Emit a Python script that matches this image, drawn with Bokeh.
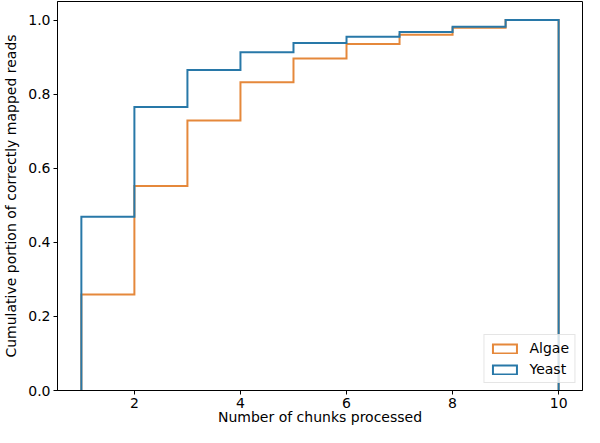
import numpy as np
from bokeh.plotting import figure
from bokeh.models import Range1d, FixedTicker, Legend, LegendItem, ColumnDataSource, PrintfTickFormatter
from bokeh.embed import file_html
from bokeh.resources import INLINE

# Data: cumulative fraction per chunk bin (bins 1..10)
bin_edges = [1, 2, 3, 4, 5, 6, 7, 8, 9, 10]
algae = [0.259, 0.552, 0.729, 0.832, 0.896, 0.935, 0.960, 0.979, 1.0]
yeast = [0.469, 0.765, 0.865, 0.913, 0.938, 0.955, 0.968, 0.982, 1.0]
series_names = ["Algae", "Yeast"]
series_colors = ["#e5883b", "#2878a8"]
x_ticks = [2, 4, 6, 8, 10]
y_ticks = [0.0, 0.2, 0.4, 0.6, 0.8, 1.0]


def step_outline(edges, vals):
    xs = [edges[0]]
    ys = [0.0]
    for i, v in enumerate(vals):
        xs += [edges[i], edges[i + 1]]
        ys += [v, v]
    xs.append(edges[-1])
    ys.append(0.0)
    return xs, ys


FONT = "DejaVu Sans"

p = figure(width=584, height=427, output_backend="svg", toolbar_location=None,
           x_range=Range1d(0.55, 10.45), y_range=Range1d(0.0, 1.05),
           min_border_left=45, min_border_right=2, min_border_top=1, min_border_bottom=0)

p.xgrid.visible = False
p.ygrid.visible = False
p.outline_line_color = "black"
p.outline_line_width = 1
p.outline_line_alpha = 1.0
p.background_fill_color = "white"
p.border_fill_color = "white"

for ax in (p.xaxis[0], p.yaxis[0]):
    ax.major_tick_in = 0
    ax.major_tick_out = 4
    ax.minor_tick_line_color = None
    ax.axis_line_color = "black"
    ax.major_tick_line_color = "black"
    ax.major_label_text_font = FONT
    ax.major_label_text_font_size = "14px"
    ax.major_label_text_color = "black"
    ax.axis_label_text_font = FONT
    ax.axis_label_text_font_size = "14px"
    ax.axis_label_text_font_style = "normal"
    ax.axis_label_text_color = "black"
    ax.major_label_standoff = 3

p.xaxis[0].ticker = FixedTicker(ticks=x_ticks)
p.yaxis[0].ticker = FixedTicker(ticks=y_ticks)
p.yaxis[0].formatter = PrintfTickFormatter(format="%.1f")
p.xaxis[0].axis_label = "Number of chunks processed"
p.yaxis[0].axis_label = "Cumulative portion of correctly mapped reads"
p.xaxis[0].axis_label_standoff = -2
p.yaxis[0].axis_label_standoff = 6

items = []
for name, vals, col in zip(series_names, [algae, yeast], series_colors):
    xs, ys = step_outline(bin_edges, vals)
    p.line(xs, ys, line_color=col, line_width=2, line_join="miter")
    nan = np.array([np.nan])
    r = p.quad(source=ColumnDataSource(dict(left=nan, right=nan, top=nan, bottom=nan)),
               left="left", right="right", top="top", bottom="bottom",
               fill_alpha=0, line_color=col, line_width=2, line_join="miter")
    items.append(LegendItem(label=name, renderers=[r], index=0))

legend = Legend(items=items, location="bottom_right",
                label_text_font=FONT, label_text_font_size="14px", label_text_color="black",
                glyph_width=30, glyph_height=11, label_standoff=10,
                spacing=5, padding=5, margin=7,
                border_line_color="#cccccc", border_line_width=1,
                background_fill_color="white", background_fill_alpha=0.8)
p.add_layout(legend, "center")

open("out.html", "w").write(file_html(p, INLINE))
